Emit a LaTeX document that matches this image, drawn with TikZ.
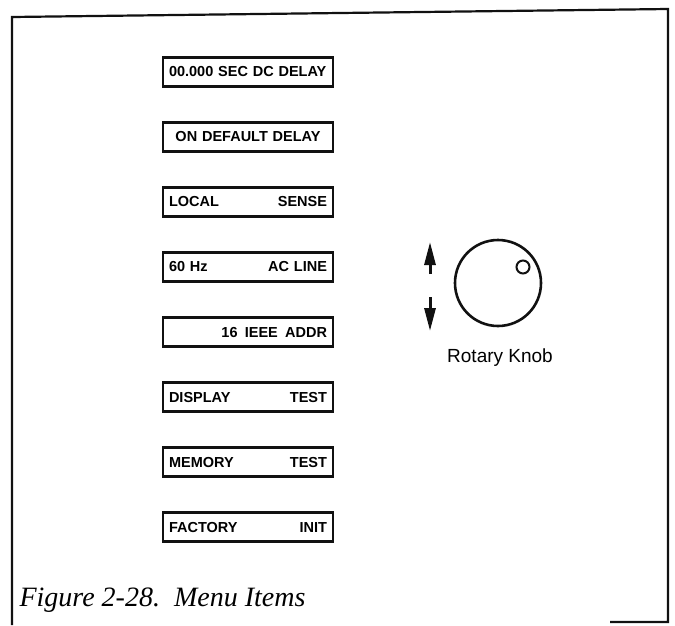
\documentclass[tikz,border=0pt]{standalone}
\usepackage{fontspec}
\setmainfont{Liberation Serif}
\setsansfont{Liberation Sans}
\usetikzlibrary{arrows.meta, positioning}
\definecolor{mink}{HTML}{111111}
\tikzset{
  menubox/.style={draw=mink, line width=2.8pt, minimum width=170, minimum height=29,
                  inner xsep=6pt, text width=158pt, align=left,
                  font=\sffamily\bfseries\fontsize{14.5}{16}\selectfont},
  knoblbl/.style={font=\sffamily\fontsize{19}{22}\selectfont},
  turnarr/.style={-{Triangle[length=23pt, width=11pt]}, line width=3pt, mink},
}
\begin{document}
\begin{tikzpicture}[x=1pt, y=-1pt]
  \useasboundingbox (0,0) rectangle (675,625);
  % frame
  \draw[mink, line width=2.2pt] (12,625) -- (12,17) -- (668,9) -- (668,622) -- (610,622);

  \node[menubox] (m1) at (248,72)  {00.000 SEC DC DELAY};
  \node[menubox] (m2) at (248,137) {\hfill ON DEFAULT DELAY\hfill\null};
  \node[menubox] (m3) at (248,202) {LOCAL\hfill SENSE};
  \node[menubox] (m4) at (248,267) {60 Hz\hfill AC LINE};
  \node[menubox] (m5) at (248,332) {\hfill 16\enspace IEEE\enspace ADDR};
  \node[menubox] (m6) at (248,397) {DISPLAY\hfill TEST};
  \node[menubox] (m7) at (248,462) {MEMORY\hfill TEST};
  \node[menubox] (m8) at (248,527) {FACTORY\hfill INIT};

  % rotary knob
  \node[draw=mink, circle, line width=2.6pt, minimum size=86] (knob) at (498,283) {};
  \node[draw=mink, circle, line width=2pt, minimum size=13] (dot) at (523,267) {};
  \node[knoblbl, anchor=base] (klbl) at (500,362) {Rotary Knob};

  \coordinate (upA) at (430,274);
  \coordinate (upB) at (430,242);
  \coordinate (dnA) at (430,297);
  \coordinate (dnB) at (430,331);
  \draw[turnarr] (upA) -- (upB);
  \draw[turnarr] (dnA) -- (dnB);

  \node[anchor=base west, font=\itshape\fontsize{28}{32}\selectfont] (cap) at (16,606)
    {Figure 2-28.\ \ Menu Items};
\end{tikzpicture}
\end{document}
